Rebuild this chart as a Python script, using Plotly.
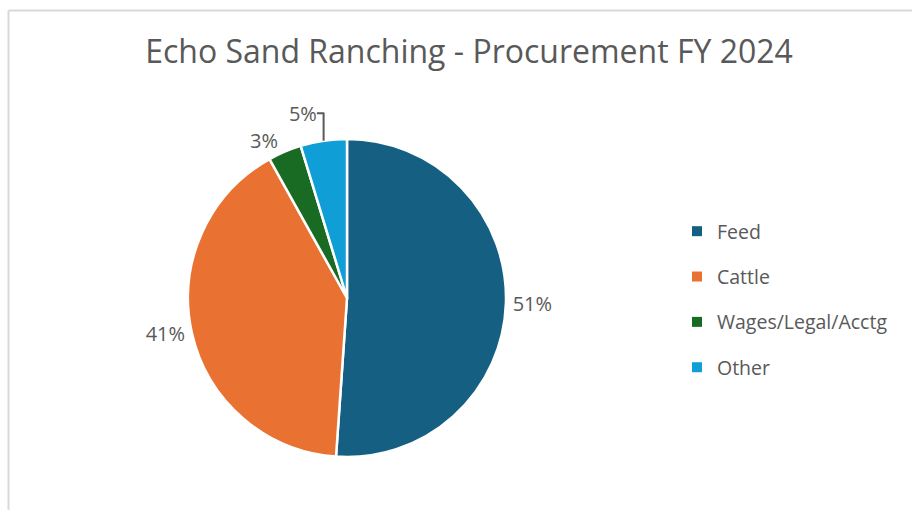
import plotly.graph_objects as go

categories = ["Feed", "Cattle", "Wages/Legal/Acctg", "Other"]
values = [51.1, 40.8, 3.4, 4.7]
colors = ["#156082", "#E97132", "#196B24", "#0F9ED5"]
title_text = "Echo Sand Ranching - Procurement FY 2024"

FONT = "Open Sans"
TXT = "#595959"
W, H = 913, 510

fig = go.Figure()
fig.add_trace(go.Pie(
    labels=categories,
    values=values,
    sort=False,
    direction="clockwise",
    rotation=0,
    marker=dict(colors=colors, line=dict(color="white", width=2.5)),
    textinfo="percent",
    texttemplate="%{percent:.0%}",
    textposition="outside",
    textfont=dict(family=FONT, size=20, color=TXT),
    showlegend=False,
    domain=dict(x=[188 / W, 506 / W], y=[(H - 458) / H, (H - 138) / H]),
))

# legend entries (one per category)
for name, col in zip(categories, colors):
    fig.add_trace(go.Scatter(
        x=[None], y=[None], mode="markers", name=name, legendgroup=name,
        marker=dict(symbol="square", size=10, color=col),
    ))

fig.update_layout(
    width=W, height=H,
    margin=dict(l=0, r=0, t=0, b=0),
    paper_bgcolor="white", plot_bgcolor="white",
    title=dict(text=title_text, x=469 / W, xanchor="center", y=1 - 52 / H, yanchor="middle",
               font=dict(family=FONT, size=32, color=TXT)),
    xaxis=dict(visible=False), yaxis=dict(visible=False),
    legend=dict(x=677 / W, xanchor="left", y=1 - 212 / H, yanchor="top",
                font=dict(family=FONT, size=19.5, color=TXT),
                tracegroupgap=17, bgcolor="rgba(0,0,0,0)"),
    shapes=[
        dict(type="line", xref="paper", yref="paper", x0=8.5 / W, x1=912 / W,
             y0=1 - 10.5 / H, y1=1 - 10.5 / H, line=dict(color="#D9D9D9", width=2)),
        dict(type="line", xref="paper", yref="paper", x0=8.5 / W, x1=8.5 / W,
             y0=1 - 10.5 / H, y1=0, line=dict(color="#D9D9D9", width=2)),
    ],
)

fig.write_html("out.html")
